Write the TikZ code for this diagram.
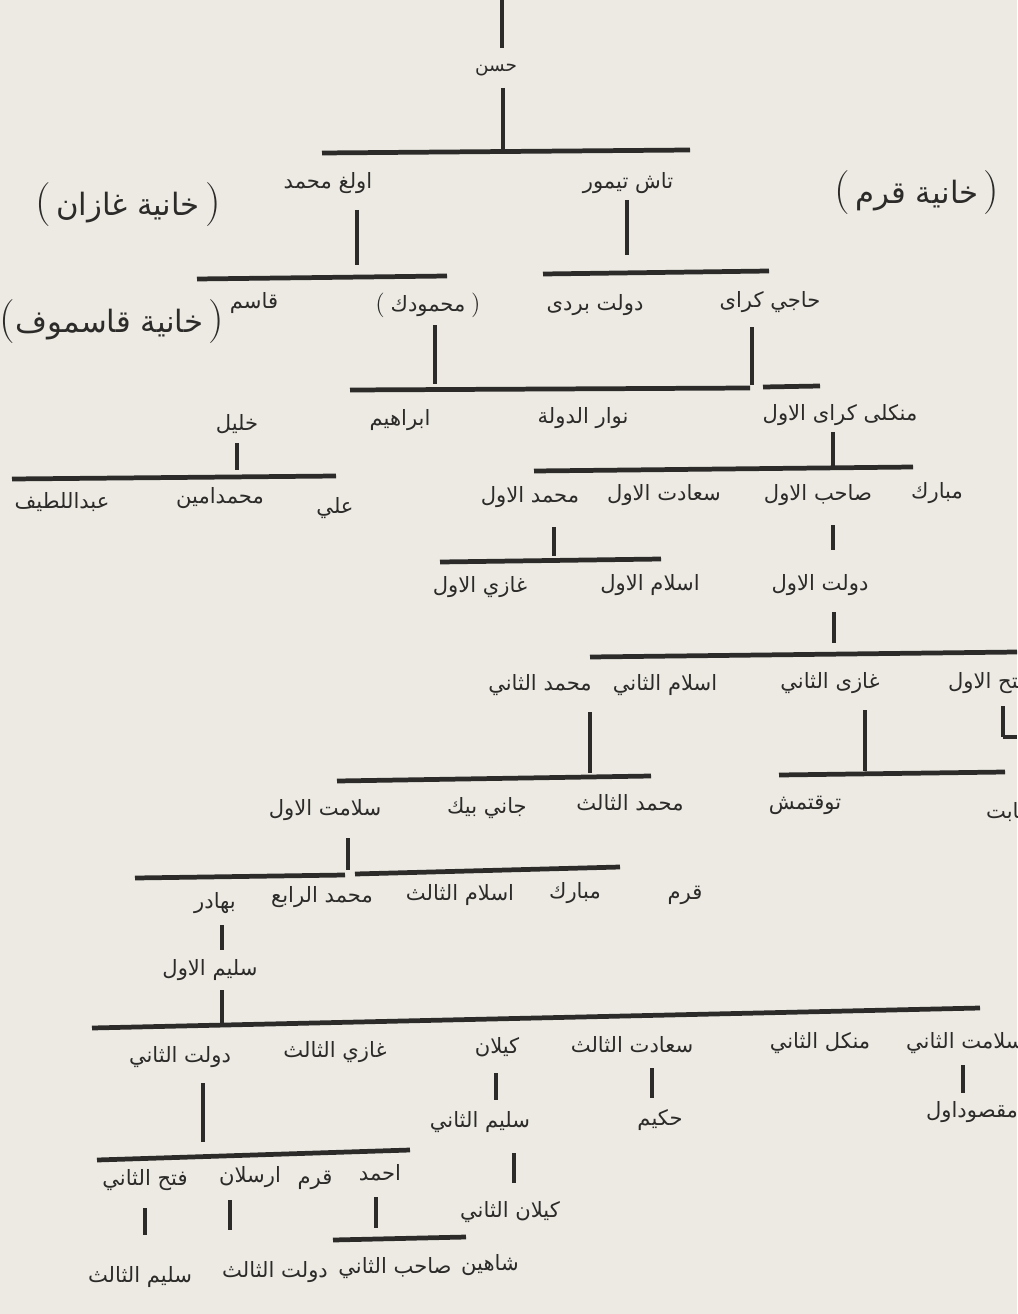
\documentclass[tikz,border=0pt]{standalone}
\usepackage{fontspec}
\usepackage{tikz}
\usetikzlibrary{positioning}
\newfontfamily\arabicfont[Script=Arabic]{DejaVu Sans}
\TeXXeTstate=1
\definecolor{PaperColor}{RGB}{236,234,227}
\definecolor{InkColor}{RGB}{44,43,41}
\newcommand{\ar}[1]{\beginR #1\endR}
\newcommand{\lpar}{{\normalfont\fontsize{25}{27}\selectfont(}}
\newcommand{\rpar}{{\normalfont\fontsize{25}{27}\selectfont)}}
\newcommand{\slpar}{{\normalfont\fontsize{14}{16}\selectfont(}}
\newcommand{\srpar}{{\normalfont\fontsize{14}{16}\selectfont)}}

\begin{document}
\begin{tikzpicture}[x=0.02cm, y=-0.02cm,
    person/.style={font=\arabicfont\fontsize{12}{14}\selectfont, text=InkColor, inner sep=1pt},
    smallperson/.style={font=\arabicfont\fontsize{10.5}{12}\selectfont, text=InkColor, inner sep=1pt},
    khanate/.style={font=\arabicfont\fontsize{17.5}{22}\selectfont, text=InkColor, inner sep=1pt},
    stem/.style={InkColor, line width=2.3pt},
    bar/.style={InkColor, line width=2.7pt}]
        \fill[PaperColor] (0,0) rectangle (1017,1314);
        \clip (0,0) rectangle (1017,1314);
        \node[smallperson] (hasan) at (496,70) {\ar{حسن}};
        \node[person] (ulugh) at (328,183) {\ar{اولغ محمد}};
        \node[person] (tash) at (628,183) {\ar{تاش تيمور}};
        \node[khanate] (kazan) at (128,205) {\lpar\,\ar{خانية غازان}\,\rpar};
        \node[khanate] (qrim) at (917,193) {\lpar\,\ar{خانية قرم}\,\rpar};
        \node[person] (qasim) at (254,303) {\ar{قاسم}};
        \node[khanate] (qasimov) at (112,322) {\lpar\ar{خانية قاسموف}\,\rpar};
        \node[person] (mahmud) at (428,305) {\slpar\;\ar{محمودك}\;\srpar};
        \node[person] (dawlatb) at (595,305) {\ar{دولت بردى}};
        \node[person] (haji) at (770,302) {\ar{حاجي كراى}};
        \node[person] (ibrahim) at (400,420) {\ar{ابراهيم}};
        \node[person] (nawar) at (583,418) {\ar{نوار الدولة}};
        \node[person] (mengli) at (840,415) {\ar{منكلى كراى الاول}};
        \node[person] (khalil) at (237,424) {\ar{خليل}};
        \node[person] (abdullatif) at (62,502) {\ar{عبداللطيف}};
        \node[person] (muhamin) at (220,498) {\ar{محمدامين}};
        \node[person] (ali) at (335,508) {\ar{علي}};
        \node[person] (mubarak) at (937,493) {\ar{مبارك}};
        \node[person] (sahib) at (818,495) {\ar{صاحب الاول}};
        \node[person] (saadet) at (664,495) {\ar{سعادت الاول}};
        \node[person] (mehmedA) at (530,497) {\ar{محمد الاول}};
        \node[person] (ghaziA) at (480,587) {\ar{غازي الاول}};
        \node[person] (islamA) at (650,585) {\ar{اسلام الاول}};
        \node[person] (dawlatA) at (820,585) {\ar{دولت الاول}};
        \node[person] (mehmedB) at (540,685) {\ar{محمد الثاني}};
        \node[person] (islamB) at (665,685) {\ar{اسلام الثاني}};
        \node[person] (ghaziB) at (830,683) {\ar{غازى الثاني}};
        \node[person, anchor=west] (fathA) at (946,683) {\ar{فتح الاول}};
        \node[person] (salamatA) at (325,810) {\ar{سلامت الاول}};
        \node[person] (janibek) at (487,808) {\ar{جاني بيك}};
        \node[person] (mehmedC) at (630,803) {\ar{محمد الثالث}};
        \node[person] (toqtamish) at (805,805) {\ar{توقتمش}};
        \node[person, anchor=west] (thabit) at (984,812) {\ar{ثابت}};
        \node[person] (qrimB) at (685,895) {\ar{قرم}};
        \node[person] (mubarakB) at (575,893) {\ar{مبارك}};
        \node[person] (islamC) at (460,895) {\ar{اسلام الثالث}};
        \node[person] (mehmedD) at (322,897) {\ar{محمد الرابع}};
        \node[person] (bahadir) at (215,903) {\ar{بهادر}};
        \node[person] (selimA) at (210,970) {\ar{سليم الاول}};
        \node[person] (dawlatB) at (180,1057) {\ar{دولت الثاني}};
        \node[person] (ghaziC) at (335,1052) {\ar{غازي الثالث}};
        \node[person] (kilan) at (497,1047) {\ar{كيلان}};
        \node[person] (saadetC) at (632,1045) {\ar{سعادت الثالث}};
        \node[person] (mengliB) at (820,1043) {\ar{منكل الثاني}};
        \node[person, anchor=west] (salamatB) at (904,1043) {\ar{سلامت الثاني}};
        \node[person, anchor=west] (maqsud) at (924,1112) {\ar{مقصوداول}};
        \node[person] (selimB) at (480,1122) {\ar{سليم الثاني}};
        \node[person] (kilanB) at (510,1212) {\ar{كيلان الثاني}};
        \node[person] (hakim) at (660,1120) {\ar{حكيم}};
        \node[person] (fathB) at (145,1180) {\ar{فتح الثاني}};
        \node[person] (arslan) at (250,1177) {\ar{ارسلان}};
        \node[person] (qrimC) at (315,1180) {\ar{قرم}};
        \node[person] (ahmad) at (380,1173) {\ar{احمد}};
        \node[person] (shahin) at (490,1265) {\ar{شاهين}};
        \node[person] (sahibB) at (395,1268) {\ar{صاحب الثاني}};
        \node[person] (dawlatC) at (275,1272) {\ar{دولت الثالث}};
        \node[person] (selimC) at (140,1277) {\ar{سليم الثالث}};
        \draw[stem] (502,0)--(502,48); \draw[stem] (503,88)--(503,149);
        \draw[bar] (322,153)--(690,150);
        \draw[stem] (357,210)--(357,265); \draw[stem] (627,200)--(627,255);
        \draw[bar] (197,279)--(447,276); \draw[bar] (543,274)--(769,271);
        \draw[stem] (435,325)--(435,384); \draw[stem] (752,327)--(752,385);
        \draw[bar] (350,390)--(750,388); \draw[bar] (763,387)--(820,386);
        \draw[stem] (237,443)--(237,470); \draw[bar] (12,479)--(336,476);
        \draw[stem] (833,432)--(833,466); \draw[bar] (534,471)--(913,467);
        \draw[stem] (554,527)--(554,556); \draw[bar] (440,562)--(661,559);
        \draw[stem] (833,525)--(833,550);
        \draw[stem] (834,612)--(834,643); \draw[bar] (590,657)--(1017,652);
        \draw[stem] (1003,706)--(1003,737); \draw[bar] (1003,737)--(1017,737);
        \draw[stem] (590,712)--(590,773); \draw[bar] (337,781)--(651,776);
        \draw[stem] (865,710)--(865,771); \draw[bar] (779,775)--(1005,772);
        \draw[stem] (348,838)--(348,870); \draw[bar] (135,878)--(345,875); \draw[bar] (355,874)--(620,867);
        \draw[stem] (222,925)--(222,950); \draw[stem] (222,990)--(222,1024);
        \draw[bar] (92,1028)--(980,1008);
        \draw[stem] (203,1083)--(203,1142); \draw[bar] (97,1160)--(410,1150);
        \draw[stem] (496,1073)--(496,1100); \draw[stem] (514,1153)--(514,1183);
        \draw[stem] (652,1068)--(652,1098);
        \draw[stem] (963,1065)--(963,1093);
        \draw[stem] (145,1208)--(145,1235); \draw[stem] (230,1200)--(230,1230); \draw[stem] (376,1197)--(376,1228);
        \draw[bar] (333,1240)--(466,1237);
      \end{tikzpicture}
\end{document}
